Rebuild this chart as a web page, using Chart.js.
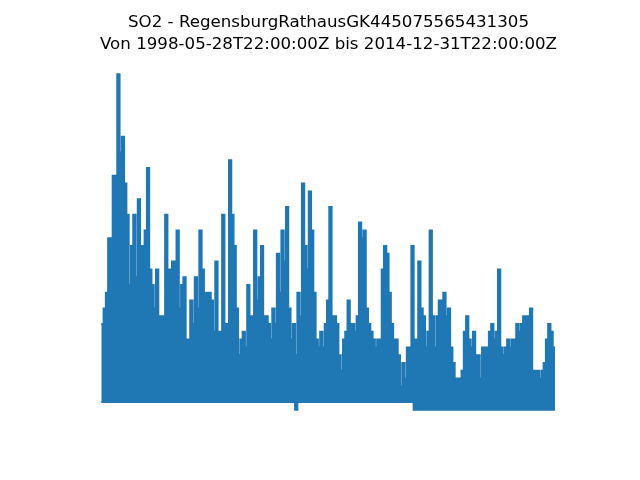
<!DOCTYPE html>
<html>
<head>
<meta charset="utf-8">
<script src="https://cdn.jsdelivr.net/npm/chart.js@4/dist/chart.umd.min.js"></script>
<style>
html,body{margin:0;padding:0;background:#fff;}
#wrap{position:relative;width:640px;height:480px;}
#title{position:absolute;left:0;top:11px;width:657px;text-align:center;font-family:'DejaVu Sans';font-size:16.67px;line-height:22px;color:#000;white-space:nowrap;}
</style>
</head>
<body>
<div id="wrap">
<canvas id="c" width="640" height="480"></canvas>
<div id="title">SO2 - RegensburgRathausGK445075565431305<br>Von 1998-05-28T22:00:00Z bis 2014-12-31T22:00:00Z</div>
</div>
<script>
// Monthly maxima / minima of hourly SO2 values, June 1998 .. December 2014
const startYear = 1998;
const startMonth = 6;
const endTime = 2015.0; // 2014-12-31T22:00:00Z

const monthlyMax = [
  10,12,14,21,21,29,29,42,32,34,
  28,24,15,20,24,16,26,20,20,22,
  30,17,15,12,17,11,11,11,24,17,
  17,18,18,22,12,15,16,8,8,13,
  10,16,12,22,17,14,14,14,13,9,
  18,9,9,24,10,10,31,24,20,12,
  6,8,9,7,15,11,11,22,13,16,
  20,11,11,10,8,12,10,19,14,22,
  18,25,12,8,10,6,14,11,28,20,
  17,27,22,14,8,7,9,7,10,13,
  25,11,11,10,6,4,8,9,13,10,
  10,9,11,23,21,22,12,10,9,8,
  7,8,8,17,20,19,14,10,8,8,
  6,2,5,3,7,7,20,8,8,18,
  12,11,7,9,22,11,7,11,13,13,
  14,11,12,7,5,3,3,3,4,9,
  11,8,7,9,6,6,3,7,7,7,
  9,10,8,9,17,7,6,7,8,7,
  8,8,10,9,10,11,11,11,12,4,
  4,4,3,4,5,8,10,9,7
];

const monthlyMin = [
  0,0,0,0,0,0,0,0,0,0,
  0,0,0,0,0,0,0,0,0,0,
  0,0,0,0,0,0,0,0,0,0,
  0,0,0,0,0,0,0,0,0,0,
  0,0,0,0,0,0,0,0,0,0,
  0,0,0,0,0,0,0,0,0,0,
  0,0,0,0,0,0,0,0,0,0,
  0,0,0,0,0,0,0,0,0,0,
  0,0,0,0,0,-1,0,0,0,0,
  0,0,0,0,0,0,0,0,0,0,
  0,0,0,0,0,0,0,0,0,0,
  0,0,0,0,0,0,0,0,0,0,
  0,0,0,0,0,0,0,0,0,0,
  0,0,0,0,0,0,0,-1,-1,-1,
  -1,-1,-1,-1,-1,-1,-1,-1,-1,-1,
  -1,-1,-1,-1,-1,-1,-1,-1,-1,-1,
  -1,-1,-1,-1,-1,-1,-1,-1,-1,-1,
  -1,-1,-1,-1,-1,-1,-1,-1,-1,-1,
  -1,-1,-1,-1,-1,-1,-1,-1,-1,-1,
  -1,-1,-1,-1,-1,-1,-1,-1,-1
];

// Month labels (categories)
const months = monthlyMax.map((_, k) => {
  const m = startMonth - 1 + k;
  return (startYear + Math.floor(m / 12)) + '-' + String(m % 12 + 1).padStart(2, '0');
});

const monthX = months.map(lbl => {
  const [y, m] = lbl.split('-').map(Number);
  return y + (m - 1) / 12;
});

function toPoints(arr) {
  const p = arr.map((v, k) => ({ x: monthX[k], y: v }));
  p.push({ x: endTime, y: arr[arr.length - 1] });
  return p;
}

const color = '#1f77b4';

new Chart(document.getElementById('c'), {
  type: 'line',
  data: {
    datasets: [
      {
        label: 'SO2 max',
        data: toPoints(monthlyMax),
        borderColor: color,
        backgroundColor: color,
        borderWidth: 2,
        pointRadius: 0,
        stepped: 'before',
        fill: '+1'
      },
      {
        label: 'SO2 min',
        data: toPoints(monthlyMin),
        borderColor: color,
        backgroundColor: color,
        borderWidth: 2,
        pointRadius: 0,
        stepped: 'before',
        fill: false
      }
    ]
  },
  options: {
    responsive: false,
    animation: false,
    devicePixelRatio: 1,
    layout: { padding: { left: 80, right: 64, top: 57.6, bottom: 52.8 } },
    plugins: {
      legend: { display: false },
      tooltip: { enabled: false },
      title: { display: false }
    },
    scales: {
      x: { type: 'linear', min: 1997.638, max: 2015.7675, display: false },
      y: { type: 'linear', min: -3.23, max: 44.15, display: false }
    }
  }
});
</script>
</body>
</html>
